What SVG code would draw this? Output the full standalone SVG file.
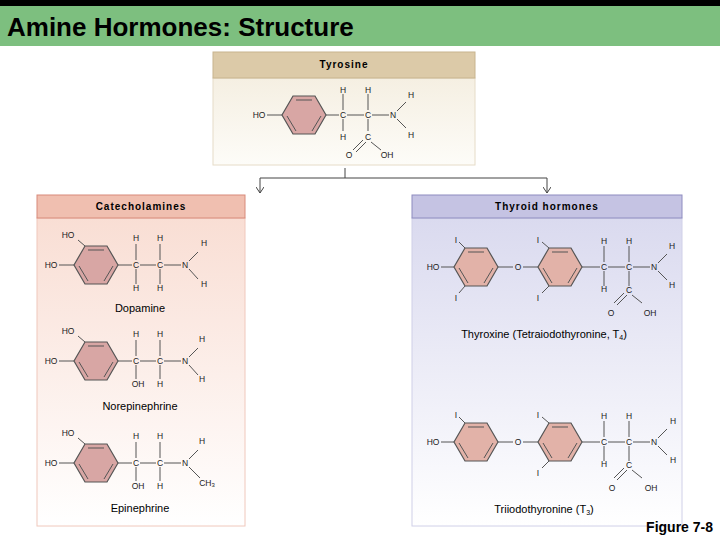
<svg xmlns="http://www.w3.org/2000/svg" xmlns:xlink="http://www.w3.org/1999/xlink" width="720" height="540" viewBox="0 0 720 540">
<style>
.t{font-family:"Liberation Sans",Arial,sans-serif;font-size:8.5px;fill:#222;text-anchor:middle}
.b{stroke:#555;stroke-width:1;fill:none}
.lab{font-family:"Liberation Sans",Arial,sans-serif;font-size:11px;fill:#000;text-anchor:middle}
.hd{font-family:"Liberation Sans",Arial,sans-serif;font-size:10px;font-weight:bold;fill:#000;text-anchor:middle;letter-spacing:1px}
</style>
<defs>
<linearGradient id="gTy" x1="0" y1="0" x2="0" y2="1"><stop offset="0" stop-color="#f5efe2"/><stop offset="1" stop-color="#fdfcf8"/></linearGradient>
<linearGradient id="gCa" x1="0" y1="0" x2="0" y2="1"><stop offset="0" stop-color="#f9ded4"/><stop offset="1" stop-color="#ffffff"/></linearGradient>
<linearGradient id="gTh" x1="0" y1="0" x2="0" y2="1"><stop offset="0" stop-color="#dadaef"/><stop offset="1" stop-color="#ffffff"/></linearGradient>
<g id="ring">
<path d="M22,0 L11,19 L-11,19 L-22,0 L-11,-19 L11,-19 Z" fill="#d8a6a4" stroke="#555" stroke-width="1.2"/>
<path d="M-8,-15 L8,-15 M17,1 L8,16 M-8,16 L-17,1" stroke="#555" stroke-width="1" fill="none"/>
</g>
<g id="ring2">
<path d="M22,0 L11,19 L-11,19 L-22,0 L-11,-19 L11,-19 Z" fill="#e2b2a8" stroke="#555" stroke-width="1.2"/>
<path d="M-8,-15 L8,-15 M17,1 L8,16 M-8,16 L-17,1" stroke="#555" stroke-width="1" fill="none"/>
</g>
<marker id="ar" markerWidth="8" markerHeight="8" refX="7" refY="4" orient="auto" markerUnits="userSpaceOnUse"><path d="M1,0 L7,4 L1,8" fill="none" stroke="#444"/></marker>
</defs>
<rect x="0" y="0" width="720" height="6" fill="#000"/>
<rect x="0" y="6" width="720" height="40" fill="#7dbf7f"/>
<text x="7" y="36" font-family="Liberation Sans,Arial,sans-serif" font-size="26" font-weight="bold" fill="#000">Amine Hormones: Structure</text>

<g id="connectors" stroke="#444" fill="none" stroke-width="1">
<path d="M345,168 V178"/>
<path d="M345,178 H260 V193" marker-end="url(#ar)"/>
<path d="M345,178 H547 V193" marker-end="url(#ar)"/>
</g>

<g id="tyrosine">
<rect x="213" y="78" width="262" height="87" fill="url(#gTy)" stroke="#e6dcc8"/>
<rect x="213" y="52" width="262" height="26" fill="#dccaa8" stroke="#c8b48e"/>
<text class="hd" x="344" y="68">Tyrosine</text>
<use xlink:href="#ring" x="304" y="115"/>
<text class="t" x="259" y="118">HO</text>
<path class="b" d="M267,115 H282 M326,115 H339 M347,115 H364 M372,115 H389 M343,94 V110 M343,119 V131 M368,94 V110 M368,119 V131 M397,111 L406,102 M397,119 L406,128 M366,142 L356,152 M363,140 L353,150 M371,142 L381,150"/>
<text class="t" x="343" y="93">H</text><text class="t" x="343" y="118">C</text><text class="t" x="343" y="140">H</text>
<text class="t" x="368" y="93">H</text><text class="t" x="368" y="118">C</text><text class="t" x="368" y="140">C</text>
<text class="t" x="393" y="118">N</text><text class="t" x="411" y="98">H</text><text class="t" x="411" y="138">H</text>
<text class="t" x="349" y="158">O</text><text class="t" x="387" y="158">OH</text>
</g>

<g id="catecholamines">
<rect x="37" y="218" width="208" height="308" fill="url(#gCa)" stroke="#f0c8bc"/>
<rect x="37" y="195" width="208" height="23" fill="#f0bfb0" stroke="#d88a7a"/>
<text class="hd" x="141" y="210">Catecholamines</text>
</g>

<g id="dopamine">
<use xlink:href="#ring" x="96" y="265"/>
<text class="t" x="68" y="238">HO</text><text class="t" x="51" y="268">HO</text>
<path class="b" d="M85,246 L78,240 M59,265 H74 M118,265 H132 M140,265 H156 M164,265 H181 M136,244 V260 M136,269 V284 M160,244 V260 M160,269 V284 M189,261 L198,252 M189,269 L198,279"/>
<text class="t" x="136" y="241">H</text><text class="t" x="136" y="268">C</text><text class="t" x="136" y="291">H</text>
<text class="t" x="160" y="241">H</text><text class="t" x="160" y="268">C</text><text class="t" x="160" y="291">H</text>
<text class="t" x="185" y="268">N</text><text class="t" x="204" y="246">H</text><text class="t" x="204" y="287">H</text>
<text class="lab" x="140" y="312">Dopamine</text>
</g>

<g id="norepinephrine">
<use xlink:href="#ring" x="96" y="361"/>
<text class="t" x="68" y="334">HO</text><text class="t" x="51" y="364">HO</text>
<path class="b" d="M85,342 L78,336 M59,361 H74 M118,361 H132 M140,361 H156 M164,361 H181 M136,340 V356 M136,365 V379 M160,340 V356 M160,365 V379 M189,357 L198,348 M189,365 L198,375"/>
<text class="t" x="136" y="337">H</text><text class="t" x="136" y="364">C</text><text class="t" x="138" y="387">OH</text>
<text class="t" x="160" y="337">H</text><text class="t" x="160" y="364">C</text><text class="t" x="160" y="387">H</text>
<text class="t" x="185" y="364">N</text><text class="t" x="202" y="342">H</text><text class="t" x="202" y="382">H</text>
<text class="lab" x="140" y="410">Norepinephrine</text>
</g>

<g id="epinephrine">
<use xlink:href="#ring" x="96" y="463"/>
<text class="t" x="68" y="436">HO</text><text class="t" x="51" y="466">HO</text>
<path class="b" d="M85,444 L78,438 M59,463 H74 M118,463 H132 M140,463 H156 M164,463 H181 M136,442 V458 M136,467 V481 M160,442 V458 M160,467 V481 M189,459 L198,450 M189,467 L200,478"/>
<text class="t" x="136" y="439">H</text><text class="t" x="136" y="466">C</text><text class="t" x="138" y="489">OH</text>
<text class="t" x="160" y="439">H</text><text class="t" x="160" y="466">C</text><text class="t" x="160" y="489">H</text>
<text class="t" x="185" y="466">N</text><text class="t" x="202" y="444">H</text><text class="t" x="207" y="486">CH<tspan font-size="6" dy="1">3</tspan></text>
<text class="lab" x="140" y="512">Epinephrine</text>
</g>

<g id="thyroid">
<rect x="412" y="218" width="270" height="308" fill="url(#gTh)" stroke="#d0d0e8"/>
<rect x="412" y="195" width="270" height="23" fill="#c5c3e3" stroke="#8e8cc0"/>
<text class="hd" x="547" y="210">Thyroid hormones</text>
</g>

<g id="thyroxine">
<use xlink:href="#ring2" x="476" y="267"/>
<use xlink:href="#ring2" x="560" y="267"/>
<text class="t" x="433" y="270">HO</text>
<text class="t" x="456" y="243">I</text><text class="t" x="456" y="301">I</text>
<text class="t" x="518" y="270">O</text>
<text class="t" x="538" y="243">I</text><text class="t" x="538" y="301">I</text>
<path class="b" d="M441,267 H454 M465,248 L459,242 M465,286 L459,293 M498,267 H513 M523,267 H538 M549,248 L542,242 M549,286 L542,293 M582,267 H600 M608,267 H625 M633,267 H650 M604,246 V262 M604,271 V286 M629,246 V262 M629,271 V286 M658,263 L667,254 M658,271 L667,280 M627,295 L617,305 M624,293 L614,303 M632,295 L642,303"/>
<text class="t" x="604" y="244">H</text><text class="t" x="604" y="270">C</text><text class="t" x="604" y="292">H</text>
<text class="t" x="629" y="244">H</text><text class="t" x="629" y="270">C</text><text class="t" x="629" y="293">C</text>
<text class="t" x="654" y="270">N</text><text class="t" x="672" y="249">H</text><text class="t" x="672" y="288">H</text>
<text class="t" x="611" y="316">O</text><text class="t" x="650" y="316">OH</text>
<text class="lab" x="544" y="338" font-size="10">Thyroxine (Tetraiodothyronine, T<tspan font-size="7" dy="2">4</tspan><tspan dy="-2">)</tspan></text>
</g>

<g id="triiodothyronine">
<use xlink:href="#ring2" x="476" y="442"/>
<use xlink:href="#ring2" x="560" y="442"/>
<text class="t" x="433" y="445">HO</text>
<text class="t" x="456" y="418">I</text>
<text class="t" x="518" y="445">O</text>
<text class="t" x="538" y="418">I</text><text class="t" x="538" y="476">I</text>
<path class="b" d="M441,442 H454 M465,423 L459,417 M498,442 H513 M523,442 H538 M549,423 L542,417 M549,461 L542,468 M582,442 H600 M608,442 H625 M633,442 H650 M604,421 V437 M604,446 V461 M629,421 V437 M629,446 V461 M658,438 L667,429 M658,446 L667,455 M627,470 L617,480 M624,468 L614,478 M632,470 L642,478"/>
<text class="t" x="604" y="419">H</text><text class="t" x="604" y="445">C</text><text class="t" x="604" y="467">H</text>
<text class="t" x="629" y="419">H</text><text class="t" x="629" y="445">C</text><text class="t" x="629" y="468">C</text>
<text class="t" x="654" y="445">N</text><text class="t" x="673" y="424">H</text><text class="t" x="673" y="463">H</text>
<text class="t" x="612" y="491">O</text><text class="t" x="651" y="491">OH</text>
<text class="lab" x="544" y="513" font-size="10">Triiodothyronine (T<tspan font-size="7" dy="2">3</tspan><tspan dy="-2">)</tspan></text>
</g>

<text x="713" y="532" text-anchor="end" font-family="Liberation Sans,Arial,sans-serif" font-size="14" font-weight="bold" fill="#000">Figure 7-8</text>
</svg>
